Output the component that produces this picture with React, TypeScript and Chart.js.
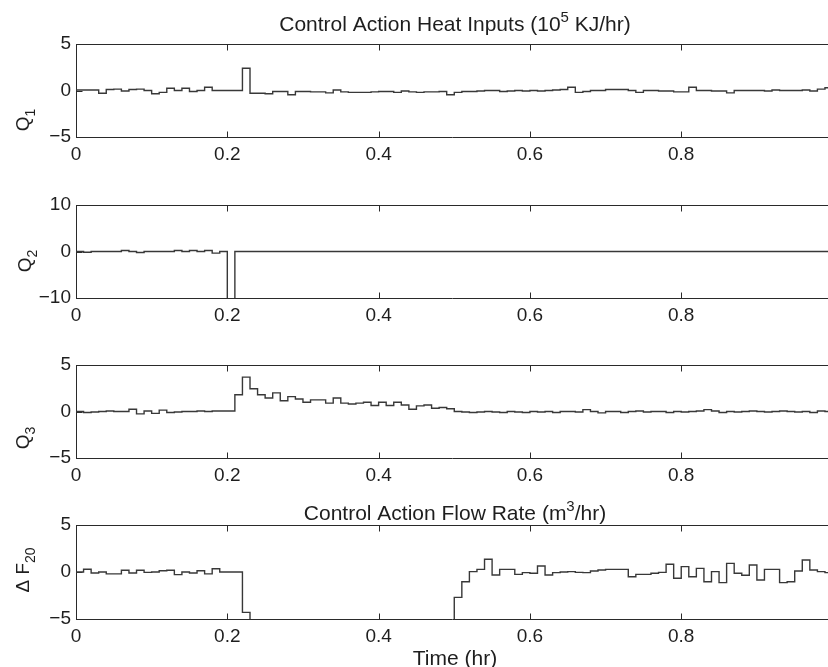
import React, { useEffect, useRef } from "react";
import { Chart, registerables } from "chart.js";

Chart.register(...registerables);

// ---------------- data ----------------
const TIME = [
  0, 0.01, 0.02, 0.03, 0.04, 0.05, 0.06, 0.07, 0.08, 0.09,
  0.1, 0.11, 0.12, 0.13, 0.14, 0.15, 0.16, 0.17, 0.18, 0.19,
  0.2, 0.21, 0.22, 0.23, 0.24, 0.25, 0.26, 0.27, 0.28, 0.29,
  0.3, 0.31, 0.32, 0.33, 0.34, 0.35, 0.36, 0.37, 0.38, 0.39,
  0.4, 0.41, 0.42, 0.43, 0.44, 0.45, 0.46, 0.47, 0.48, 0.49,
  0.5, 0.51, 0.52, 0.53, 0.54, 0.55, 0.56, 0.57, 0.58, 0.59,
  0.6, 0.61, 0.62, 0.63, 0.64, 0.65, 0.66, 0.67, 0.68, 0.69,
  0.7, 0.71, 0.72, 0.73, 0.74, 0.75, 0.76, 0.77, 0.78, 0.79,
  0.8, 0.81, 0.82, 0.83, 0.84, 0.85, 0.86, 0.87, 0.88, 0.89,
  0.9, 0.91, 0.92, 0.93, 0.94, 0.95, 0.96, 0.97, 0.98, 0.99,
  1.0,
];

const Q1 = [
  0.05, 0.05, 0.05, -0.3, 0.1, 0.15, -0.05, 0.1, 0.15, 0,
  -0.35, -0.2, 0.25, 0, 0.25, -0.1, 0, 0.35, 0, 0,
  0, 0, 2.4, -0.3, -0.3, -0.35, -0.1, -0.1, -0.45, -0.1,
  -0.1, -0.15, -0.15, -0.25, 0.05, -0.15, -0.2, -0.2, -0.2, -0.15,
  -0.1, -0.1, -0.2, -0.05, -0.15, -0.2, -0.15, -0.15, -0.1, -0.45,
  -0.2, -0.1, -0.1, -0.05, 0, 0, -0.1, -0.05, 0, -0.05,
  0, -0.05, 0, 0.05, 0.1, 0.35, -0.2, -0.1, 0, 0,
  0.1, 0.1, 0.1, 0, -0.2, 0, 0, -0.05, -0.05, -0.15,
  -0.15, 0.35, 0, 0, -0.05, -0.05, -0.25, 0, 0, 0,
  0, -0.05, 0.05, 0, 0, 0, 0.05, -0.05, 0.15, 0.3,
];

const Q2 = [
  0, -0.15, 0, 0, 0, 0, 0.2, 0, -0.2, 0,
  0, 0, 0, 0.2, 0, 0.2, 0, 0.2, -0.35, 0,
  -14, 0, 0, 0, 0, 0, 0, 0, 0, 0,
  0, 0, 0, 0, 0, 0, 0, 0, 0, 0,
  0, 0, 0, 0, 0, 0, 0, 0, 0, 0,
  0, 0, 0, 0, 0, 0, 0, 0, 0, 0,
  0, 0, 0, 0, 0, 0, 0, 0, 0, 0,
  0, 0, 0, 0, 0, 0, 0, 0, 0, 0,
  0, 0, 0, 0, 0, 0, 0, 0, 0, 0,
  0, 0, 0, 0, 0, 0, 0, 0, 0, 0,
];

const Q3 = [
  0, -0.1, -0.05, 0, 0.05, 0, 0, 0.25, -0.25, 0.05,
  -0.2, 0.15, -0.1, -0.05, 0, 0, 0.05, 0, 0.05, 0.05,
  0.05, 1.8, 3.7, 2.45, 1.8, 1.45, 2.0, 1.15, 1.6, 1.35,
  1.0, 1.25, 1.25, 0.9, 1.45, 0.9, 0.8, 0.9, 1.0, 0.65,
  1.0, 0.65, 1.0, 0.7, 0.25, 0.6, 0.7, 0.35, 0.43, 0.3,
  0, -0.05, -0.1, -0.05, 0, -0.05, -0.1, 0, -0.05, -0.1,
  0, -0.05, 0, -0.1, 0, 0, -0.05, 0.2, 0, -0.15,
  0, 0, -0.1, 0, 0.05, -0.05, 0, 0, -0.1, 0,
  -0.05, 0, 0.05, 0.2, 0.05, -0.1, 0, -0.05, 0, 0.05,
  0, -0.05, 0, 0.05, 0, -0.05, 0, -0.1, 0.05, 0,
];

const DF20 = [
  0, 0.3, -0.1, 0, -0.2, -0.2, 0.18, -0.1, 0.18, -0.04,
  0, 0.14, 0.18, -0.28, 0, -0.1, 0.14, -0.2, 0.35, 0,
  0, 0, -4.3, -8, -8, -8, -8, -8, -8, -8,
  -8, -8, -8, -8, -8, -8, -8, -8, -8, -8,
  -8, -8, -8, -8, -8, -8, -8, -8, -8, -8,
  -2.7, -1.03, 0.04, 0.28, 1.35, -0.32, 0.28, 0.28, -0.25, -0.07,
  -0.14, 0.64, -0.32, -0.07, 0, 0.04, -0.04, -0.07, 0.11, 0.21,
  0.28, 0.28, 0.28, -0.5, -0.25, -0.25, -0.14, -0.04, 0.82, -0.67,
  0.57, -0.5, 0.39, -1.03, 0.04, -1.13, 0.92, -0.14, -0.35, 0.74,
  -0.85, 0.28, 0.28, -1.13, -1.03, 0.11, 1.28, 0.21, 0.04, -0.07,
];

const X_TICKS = [0, 0.2, 0.4, 0.6, 0.8];
const Y_TICKS_5 = [-5, 0, 5];
const Y_TICKS_10 = [-10, 0, 10];
const X_MIN = 0;
const X_MAX = 0.994;

// ---------------- styling / layout ----------------
const W = 828;
const H = 667;
const FONT = '"Liberation Sans", Arial, Helvetica, sans-serif';
const TEXT = "#1e1e1e";
const AXIS = "#2a2a2a";
const LINE = "#383838";
const AXIS_LEFT = 76;
const X_SCALE_H = 30;
const TICK_FONT = 19;
const LABEL_FONT = 21;
const CENTER_X = 455;

type Part = { t: string; s?: "sup" | "sub" };
type Rich = { parts: Part[]; x: number; y: number; size: number; rotate?: boolean };

type PanelDef = {
  values: number[];
  yTicks: number[];
  top: number;
  bottom: number;
  texts: Rich[];
};

const PANELS: PanelDef[] = [
  {
    values: Q1,
    yTicks: Y_TICKS_5,
    top: 44,
    bottom: 137,
    texts: [
      {
        parts: [{ t: "Control Action Heat Inputs (10" }, { t: "5", s: "sup" }, { t: " KJ/hr)" }],
        x: CENTER_X,
        y: 31,
        size: LABEL_FONT,
      },
      { parts: [{ t: "Q" }, { t: "1", s: "sub" }], x: 29, y: 120, size: 19, rotate: true },
    ],
  },
  {
    values: Q2,
    yTicks: Y_TICKS_10,
    top: 205,
    bottom: 298,
    texts: [{ parts: [{ t: "Q" }, { t: "2", s: "sub" }], x: 31, y: 261, size: 19, rotate: true }],
  },
  {
    values: Q3,
    yTicks: Y_TICKS_5,
    top: 365,
    bottom: 458,
    texts: [{ parts: [{ t: "Q" }, { t: "3", s: "sub" }], x: 29, y: 438, size: 19, rotate: true }],
  },
  {
    values: DF20,
    yTicks: Y_TICKS_5,
    top: 525,
    bottom: 619,
    texts: [
      {
        parts: [{ t: "Control Action Flow Rate (m" }, { t: "3", s: "sup" }, { t: "/hr)" }],
        x: CENTER_X,
        y: 520,
        size: LABEL_FONT,
      },
      { parts: [{ t: "Time (hr)" }], x: CENTER_X, y: 665, size: LABEL_FONT },
      { parts: [{ t: "Δ F" }, { t: "20", s: "sub" }], x: 29, y: 570, size: 19, rotate: true },
    ],
  },
];

function fmt(v: number): string {
  const r = Math.round(v * 10) / 10;
  return String(r).replace("-", "\u2212");
}

function drawRich(ctx: CanvasRenderingContext2D, r: Rich) {
  const small = Math.round(r.size * 0.72);
  ctx.save();
  ctx.fillStyle = TEXT;
  ctx.textBaseline = "alphabetic";
  ctx.textAlign = "left";
  const widths = r.parts.map((p) => {
    ctx.font = `${p.s ? small : r.size}px ${FONT}`;
    return ctx.measureText(p.t).width;
  });
  const total = widths.reduce((a, b) => a + b, 0);
  ctx.translate(r.x, r.y);
  if (r.rotate) ctx.rotate(-Math.PI / 2);
  let cx = -total / 2;
  r.parts.forEach((p, i) => {
    ctx.font = `${p.s ? small : r.size}px ${FONT}`;
    const dy = p.s === "sup" ? -r.size * 0.42 : p.s === "sub" ? r.size * 0.3 : 0;
    ctx.fillText(p.t, cx, dy);
    cx += widths[i];
  });
  ctx.restore();
}

const decorPlugin = {
  id: "panelDecor",
  beforeDatasetsDraw(chart: any) {
    const { ctx, chartArea } = chart;
    const xs = chart.scales.x;
    const ys = chart.scales.y;
    ctx.save();
    ctx.strokeStyle = AXIS;
    ctx.lineWidth = 1;
    const ty = Math.round(chartArea.top) + 0.5;
    ctx.beginPath();
    ctx.moveTo(chartArea.left, ty);
    ctx.lineTo(chartArea.right, ty);
    ctx.stroke();
    const by = Math.round(chartArea.bottom) + 0.5;
    X_TICKS.forEach((v) => {
      if (v === X_MIN) return;
      const px = Math.round(xs.getPixelForValue(v)) + 0.5;
      ctx.beginPath();
      ctx.moveTo(px, ty);
      ctx.lineTo(px, ty + 6);
      ctx.moveTo(px, by);
      ctx.lineTo(px, by - 6);
      ctx.stroke();
    });
    const lx = Math.round(chartArea.left) + 0.5;
    (chart.options.plugins.panelDecor.yTicks as number[]).forEach((v) => {
      const py = Math.round(ys.getPixelForValue(v)) + 0.5;
      ctx.beginPath();
      ctx.moveTo(lx, py);
      ctx.lineTo(lx + 6, py);
      ctx.stroke();
    });
    ctx.restore();
  },
  afterDraw(chart: any) {
    const texts = chart.options.plugins.panelDecor.texts as Rich[];
    texts.forEach((t) => drawRich(chart.ctx, t));
  },
};

function Panel({ def }: { def: PanelDef }) {
  const ref = useRef<HTMLCanvasElement | null>(null);
  useEffect(() => {
    if (!ref.current) return;
    const vals = def.values;
    const points = TIME.map((t, i) => ({ x: t, y: vals[Math.min(i, vals.length - 1)] }));
    const yMin = def.yTicks[0];
    const yMax = def.yTicks[def.yTicks.length - 1];
    const chart = new Chart(ref.current, {
      type: "line",
      data: {
        datasets: [
          {
            data: points,
            stepped: "before",
            borderColor: LINE,
            borderWidth: 1.4,
            pointRadius: 0,
            fill: false,
            tension: 0,
          },
        ],
      },
      options: {
        animation: false,
        responsive: false,
        maintainAspectRatio: false,
        devicePixelRatio: 1,
        events: [],
        layout: {
          padding: { top: def.top, bottom: H - def.bottom - X_SCALE_H, left: 0, right: 0 },
        },
        plugins: {
          legend: { display: false },
          tooltip: { enabled: false },
          title: { display: false },
          panelDecor: { texts: def.texts, yTicks: def.yTicks },
        } as any,
        scales: {
          x: {
            type: "linear",
            min: X_MIN,
            max: X_MAX,
            afterBuildTicks: (s: any) => {
              s.ticks = X_TICKS.map((v) => ({ value: v }));
            },
            afterFit: (s: any) => {
              s.height = X_SCALE_H;
            },
            ticks: {
              includeBounds: false,
              autoSkip: false,
              maxRotation: 0,
              padding: 6,
              color: TEXT,
              font: { family: FONT, size: TICK_FONT },
              callback: (v: any) => fmt(Number(v)),
            },
            grid: { display: false, drawTicks: false },
            border: { display: true, color: AXIS, width: 1 },
          },
          y: {
            type: "linear",
            min: yMin,
            max: yMax,
            afterBuildTicks: (s: any) => {
              s.ticks = def.yTicks.map((v) => ({ value: v }));
            },
            afterFit: (s: any) => {
              s.width = AXIS_LEFT;
            },
            ticks: {
              includeBounds: false,
              autoSkip: false,
              padding: 5,
              color: TEXT,
              font: { family: FONT, size: TICK_FONT },
              callback: (v: any) => fmt(Number(v)),
            },
            grid: { display: false, drawTicks: false },
            border: { display: true, color: AXIS, width: 1 },
          },
        },
      } as any,
      plugins: [decorPlugin as any],
    });
    return () => chart.destroy();
  }, [def]);
  return (
    <canvas
      ref={ref}
      width={W}
      height={H}
      style={{ position: "absolute", left: 0, top: 0, width: W, height: H }}
    />
  );
}

export default function App() {
  return (
    <div style={{ position: "absolute", left: 0, top: 0, width: W, height: H, background: "#ffffff", overflow: "hidden" }}>
      {PANELS.map((p, i) => (
        <Panel key={i} def={p} />
      ))}
    </div>
  );
}
